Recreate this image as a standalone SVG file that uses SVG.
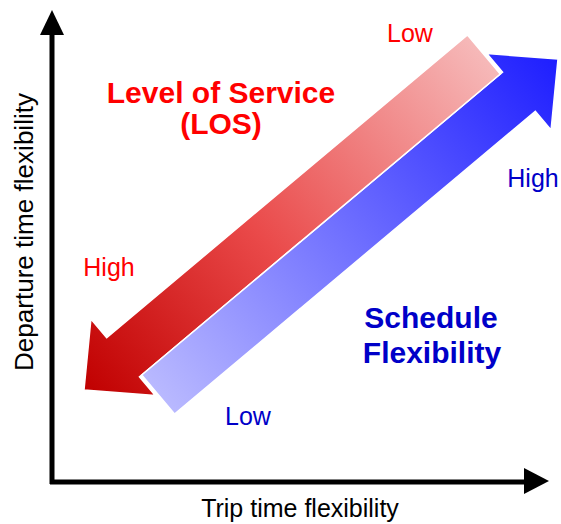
<svg xmlns="http://www.w3.org/2000/svg" xmlns:xlink="http://www.w3.org/1999/xlink" width="561" height="524" viewBox="0 0 561 524">
  <style>
    .ax { stroke: #000; stroke-width: 5; fill: none; }
    .axh { fill: #000; }
    .arrow { stroke: #fff; stroke-width: 1.5; stroke-linejoin: miter; }
    .lbl { font-family: "Liberation Sans", Arial, sans-serif; font-size: 25px; }
    .big { font-family: "Liberation Sans", Arial, sans-serif; font-size: 30px; font-weight: bold; }
    .red { fill: #ff0000; }
    .blue { fill: #0000c8; }
  </style>
  <defs>
    <linearGradient id="gBlue" gradientUnits="userSpaceOnUse" x1="-522" y1="0" x2="0" y2="0">
      <stop offset="0" stop-color="#b9b9ff"/>
      <stop offset="1" stop-color="#1e1eff"/>
    </linearGradient>
    <linearGradient id="gRed" gradientUnits="userSpaceOnUse" x1="-522" y1="0" x2="0" y2="0">
      <stop offset="0" stop-color="#f6b9b9"/>
      <stop offset="0.55" stop-color="#ea4a4a"/>
      <stop offset="1" stop-color="#c00000"/>
    </linearGradient>
    <clipPath id="clipLL">
      <rect x="0" y="220" width="300" height="304"/>
    </clipPath>
  </defs>

  <g id="connectors">
    <line class="ax" x1="52" y1="484" x2="52" y2="33"/>
    <polygon class="axh" points="52,10 40,35 64,35"/>
    <line class="ax" x1="50" y1="482" x2="526" y2="482"/>
    <polygon class="axh" points="549,481 524,468 524,494"/>
  </g>

  <g id="schedule-arrow" transform="translate(558,59) rotate(-40)">
    <polygon class="arrow" fill="url(#gBlue)" points="0,0 -51,-50 -51,-25.5 -522,-25.5 -522,25.5 -51,25.5 -51,50"/>
  </g>
  <g id="los-arrow" transform="translate(84,390) rotate(140)">
    <polygon class="arrow" fill="url(#gRed)" points="0,0 -51,-50 -51,-25.5 -522,-25.5 -522,25.5 -51,25.5 -51,50"/>
  </g>
  <use xlink:href="#schedule-arrow" clip-path="url(#clipLL)"/>

  <g id="los-label">
    <text class="big red" x="221" y="103" text-anchor="middle">Level of Service</text>
    <text class="big red" x="221" y="134" text-anchor="middle">(LOS)</text>
  </g>
  <g id="los-low"><text class="lbl red" x="410" y="42" text-anchor="middle">Low</text></g>
  <g id="los-high"><text class="lbl red" x="109" y="276" text-anchor="middle">High</text></g>
  <g id="schedule-label">
    <text class="big blue" x="431" y="328" text-anchor="middle">Schedule</text>
    <text class="big blue" x="432" y="363" text-anchor="middle">Flexibility</text>
  </g>
  <g id="schedule-low"><text class="lbl blue" x="248" y="425" text-anchor="middle">Low</text></g>
  <g id="schedule-high"><text class="lbl blue" x="533" y="187" text-anchor="middle">High</text></g>
  <g id="x-label"><text class="lbl" fill="#000" x="300" y="517" text-anchor="middle">Trip time flexibility</text></g>
  <g id="y-label"><text class="lbl" fill="#000" transform="translate(33,232) rotate(-90)" text-anchor="middle" textLength="278" lengthAdjust="spacingAndGlyphs">Departure time flexibility</text></g>
</svg>
